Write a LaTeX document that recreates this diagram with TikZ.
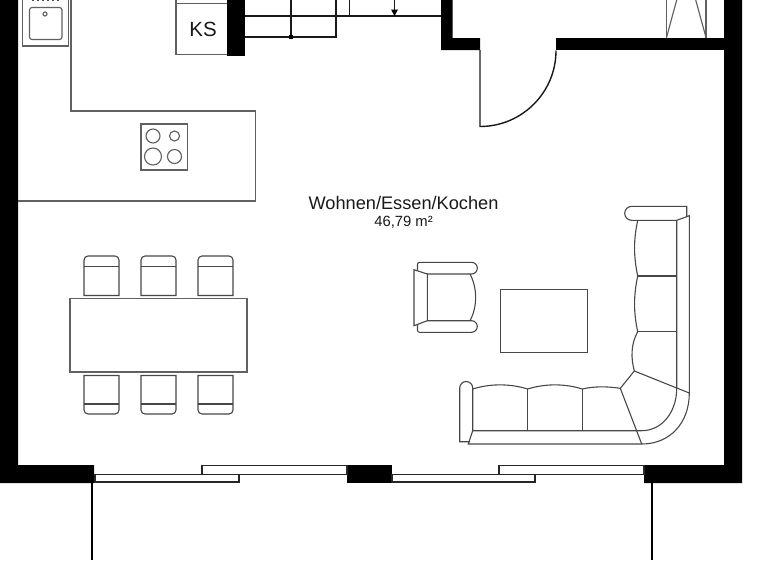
\documentclass[tikz,border=0pt]{standalone}
\usepackage{fontspec}
\setmainfont{Liberation Sans}
\tikzset{
  wall/.style={fill=black,draw=none},
  thin line/.style={draw=black!62,line width=1.15pt},
  furn/.style={draw=black!72,line width=1.1pt},
  stair/.style={draw=black!90,line width=1.4pt},
  win/.style={draw=black!85,fill=white,line width=1.4pt},
  lbl/.style={inner sep=0pt,text=black!90}
}
\begin{document}
\begin{tikzpicture}[x=1pt,y=-1pt]
\useasboundingbox (0,0) rectangle (768,560);
% walls
\fill[wall] (0,0) -- (18,0) -- (18,465) -- (94,465) -- (94,483) -- (0,483) -- cycle;
\fill[wall] (724,0) -- (742,0) -- (742,483) -- (644,483) -- (644,465) -- (724,465) -- cycle;
\fill[wall] (347,465) rectangle (392,483);
\fill[wall] (227,0) rectangle (245,56);
\fill[wall] (441,0) -- (452.5,0) -- (452.5,38) -- (480,38) -- (480,50) -- (441,50) -- cycle;
\fill[wall] (556,38) rectangle (724,50);
% door
\draw[stair] (480,50) -- (480,126.5) arc[start angle=90,end angle=0,radius=76];
% stairs
\draw[stair] (245,16) -- (441,16);
\draw[stair] (245,37) -- (336,37) -- (336,0);
\draw[stair] (291,0) -- (291,37);
\fill (288.7,34.7) rectangle (293.3,39);
\draw[stair] (349.5,0) -- (349.5,16);
\draw[stair] (394.5,0) -- (394.5,10);
\fill (391,9.5) -- (398,9.5) -- (394.5,16) -- cycle;
% windows
\draw[win] (202,465.5) rectangle (347,474.5);
\draw[win] (95,474.5) rectangle (239,482);
\draw[win] (499,465.5) rectangle (644,474.5);
\draw[win] (392,474.5) rectangle (535,482);
% terrace
\draw[black,line width=2pt] (92,483) -- (92,560);
\draw[black,line width=2pt] (652,483) -- (652,560);
% wardrobe
\draw[thin line] (666.5,0) -- (666.5,38);
\draw[thin line] (706,0) -- (706,38);
\draw[thin line] (666.5,37.5) -- (676.7,0);
\draw[thin line] (706,37.5) -- (695.7,0);
% kitchen
\draw[thin line] (71,0) -- (71,111) -- (255.5,111) -- (255.5,201) -- (18,201);
\draw[thin line] (22.5,0) -- (22.5,46) -- (68.5,46) -- (68.5,0);
\draw[thin line,rounded corners=2.5pt] (29.5,7.5) rectangle (62,39.5);
\draw[thin line] (45,14) circle (2);
\foreach \x in {33,38,43,48,53,58} \fill[black!70] (\x-0.6,0) rectangle (\x+0.6,1.3);
% KS
\draw[thin line] (176,0) -- (176,54.5) -- (227,54.5);
\draw[thin line] (176,3.3) -- (227,3.3);
\node[lbl,font=\fontsize{20.5}{20.5}\selectfont] (ks) at (203,29) {KS};
% hob
\draw[thin line] (141,124) rectangle (187.5,170);
\draw[thin line] (153,136) circle (7);
\draw[thin line] (174.5,136) circle (5);
\draw[thin line] (153,156.5) circle (8.5);
\draw[thin line] (174.5,156.5) circle (7);
% labels
\node[lbl,font=\fontsize{18.2}{18.2}\selectfont] (room) at (403.5,203) {Wohnen/Essen/Kochen};
\node[lbl,font=\fontsize{14.8}{14.8}\selectfont] (area) at (403.5,222) {46,79 m²};
% table and chairs
\draw[thin line] (70,298.5) rectangle (247,372);
\foreach \x in {84,141,198}{
  \draw[furn] (\x,295.5) -- (\x,260) arc[start angle=180,end angle=270,radius=4] -- (\x+31,256) arc[start angle=270,end angle=360,radius=4] -- (\x+35,295.5) -- cycle;
  \draw[furn] (\x,266.5) -- (\x+35,266.5);
  \draw[furn] (\x,375.5) -- (\x,410) arc[start angle=180,end angle=90,radius=4] -- (\x+31,414) arc[start angle=90,end angle=0,radius=4] -- (\x+35,375.5) -- cycle;
  \draw[furn] (\x,404) -- (\x+35,404);
}
% armchair
\draw[furn] (414,269.7) -- (414,325.7) -- (427.3,320.7) -- (427.3,274) -- cycle;
\draw[furn] (417.5,270.5) -- (417.5,264.3) arc[start angle=180,end angle=270,radius=2] -- (471.5,262.3) arc[start angle=-90,end angle=90,radius=5.85] -- (427.3,274);
\draw[furn] (417.5,325) -- (417.5,330.3) arc[start angle=180,end angle=90,radius=2] -- (471.5,332.3) arc[start angle=90,end angle=-90,radius=5.8] -- (427.3,320.7);
\draw[furn] (470,274) .. controls (477.5,288) and (477.5,307) .. (470,320.7);
% rug
\draw[furn] (500.7,289.7) rectangle (587.7,352.3);
% sofa: upper arm
\draw[furn] (686.7,206.3) -- (631.7,206.3) arc[start angle=270,end angle=90,radius=7] -- (676.7,220.3) -- (686.7,216.7) -- cycle;
% sofa: back
\draw[furn] (686.7,216.5) -- (689.3,215.7) -- (689.3,393) .. controls (689.3,423) and (670,444) .. (641.7,444) -- (468.3,444) -- (472.7,430.7) -- (641.7,430.7) .. controls (662,430.7) and (676.7,412) .. (676.7,388.3) -- (676.7,220.3);
% sofa: side seats
\draw[furn] (637.7,220.3) .. controls (633.5,240) and (633.5,256) .. (637.7,276) .. controls (633.5,296) and (633.5,312) .. (637.7,331.7) .. controls (630.5,345) and (631,358) .. (634.3,371);
\draw[furn] (637.7,276) -- (676.7,276);
\draw[furn] (637.7,331.7) -- (676.7,331.7);
% sofa: corner
\draw[furn] (634.3,371) -- (690,393.3);
\draw[furn] (634.3,371) -- (620.3,388.3) -- (641.7,444);
% sofa: lower seats
\draw[furn] (472.7,389) .. controls (490,383.5) and (510,383.5) .. (527.7,389) .. controls (545,383.5) and (565,383.5) .. (582.3,389) .. controls (595,386) and (608,386.5) .. (620.3,388.3);
\draw[furn] (527.7,389) -- (527.7,430.7);
\draw[furn] (582.3,389) -- (582.3,430.7);
% sofa: left arm
\draw[furn] (470,441.7) -- (459.7,441.7) -- (459.7,388) arc[start angle=180,end angle=360,radius=6.5] -- (472.7,430.7);
\end{tikzpicture}
\end{document}
